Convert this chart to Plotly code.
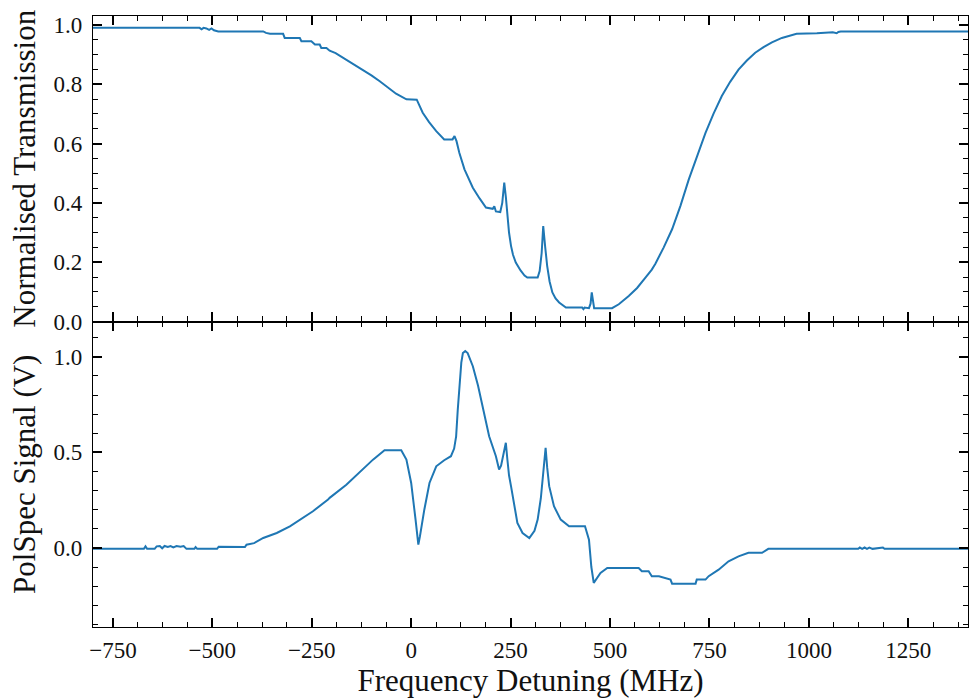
import plotly.graph_objects as go
from plotly.subplots import make_subplots

# Normalised transmission vs frequency detuning (MHz)
trans_freq = [-800, -532, -527, -522, -515, -508, -502, -496, -485, -372, -365, -355, -322,
              -318, -280, -276, -251, -242, -230, -226, -213, -205, -190, -163, -140, -121,
              -100, -79, -58, -38, -12, 14, 29, 45, 63, 83, 104, 109, 114, 121, 134, 155,
              172, 188, 205, 209, 213, 224, 229, 234, 238, 242, 246, 251, 256, 263, 275,
              285, 292, 318, 323, 328, 332, 337, 342, 348, 355, 363, 372, 389, 430, 433,
              436, 447, 451, 454, 457, 460, 505, 512, 522, 547, 568, 589, 605, 614, 635,
              656, 677, 698, 719, 740, 760, 781, 802, 823, 844, 865, 886, 907, 932, 950,
              969, 1020, 1060, 1070, 1074, 1080, 1400]
trans_vals = [0.990, 0.990, 0.985, 0.990, 0.988, 0.983, 0.988, 0.982, 0.978, 0.978, 0.973,
              0.970, 0.970, 0.956, 0.956, 0.945, 0.945, 0.934, 0.934, 0.922, 0.922, 0.913,
              0.905, 0.883, 0.865, 0.849, 0.830, 0.810, 0.790, 0.768, 0.749, 0.748, 0.704,
              0.672, 0.642, 0.614, 0.614, 0.625, 0.608, 0.569, 0.513, 0.451, 0.415, 0.384,
              0.380, 0.388, 0.371, 0.369, 0.400, 0.468, 0.420, 0.356, 0.300, 0.255, 0.225,
              0.199, 0.172, 0.155, 0.148, 0.148, 0.170, 0.230, 0.322, 0.250, 0.187, 0.135,
              0.098, 0.078, 0.064, 0.047, 0.047, 0.042, 0.047, 0.045, 0.060, 0.098, 0.060,
              0.045, 0.045, 0.050, 0.058, 0.086, 0.113, 0.148, 0.175, 0.195, 0.250, 0.311,
              0.390, 0.479, 0.560, 0.636, 0.700, 0.760, 0.808, 0.849, 0.880, 0.906, 0.925,
              0.941, 0.956, 0.963, 0.970, 0.972, 0.975, 0.972, 0.976, 0.978, 0.978]

# Polarisation spectroscopy signal (V)
pol_freq = [-800, -672, -668, -664, -645, -640, -632, -626, -620, -612, -605, -598, -590,
            -580, -572, -565, -545, -542, -538, -488, -484, -470, -418, -414, -395, -372,
            -338, -305, -280, -247, -209, -205, -163, -121, -96, -67, -25, -12, 0, 11, 18,
            22, 33, 46, 63, 83, 100, 108, 113, 117, 121, 126, 130, 136, 142, 155, 168, 180,
            196, 213, 221, 226, 232, 238, 242, 246, 251, 259, 267, 280, 297, 310, 318, 326,
            333, 338, 342, 347, 359, 376, 397, 437, 447, 453, 459, 466, 476, 493, 572, 580,
            597, 605, 623, 652, 656, 715, 718, 740, 748, 773, 798, 823, 848, 882, 898, 1124,
            1128, 1134, 1140, 1146, 1152, 1160, 1186, 1190, 1400]
pol_vals = [-0.005, -0.005, 0.008, -0.005, -0.005, 0.008, 0.010, -0.002, 0.010, 0.005,
            0.010, 0.003, 0.010, 0.006, 0.010, -0.005, -0.005, 0.004, -0.005, -0.005, 0.006,
            0.005, 0.005, 0.017, 0.025, 0.052, 0.078, 0.113, 0.148, 0.192, 0.253, 0.262,
            0.331, 0.410, 0.462, 0.511, 0.511, 0.462, 0.340, 0.148, 0.017, 0.060, 0.200,
            0.340, 0.427, 0.459, 0.480, 0.520, 0.584, 0.720, 0.846, 0.970, 1.020, 1.030,
            1.020, 0.951, 0.850, 0.741, 0.584, 0.480, 0.410, 0.430, 0.500, 0.550, 0.460,
            0.380, 0.323, 0.220, 0.131, 0.078, 0.052, 0.090, 0.148, 0.260, 0.420, 0.524,
            0.420, 0.323, 0.218, 0.148, 0.113, 0.113, 0.043, -0.100, -0.183, -0.160, -0.131,
            -0.105, -0.105, -0.122, -0.122, -0.148, -0.148, -0.166, -0.187, -0.187, -0.166,
            -0.166, -0.148, -0.114, -0.070, -0.044, -0.026, -0.026, -0.005, -0.005, 0.002,
            -0.005, 0.002, -0.005, 0.002, -0.005, 0.002, -0.005, -0.005]

x_ticks = [-750, -500, -250, 0, 250, 500, 750, 1000, 1250]
x_ticklabels = ["\u2212750", "\u2212500", "\u2212250", "0", "250", "500", "750", "1000", "1250"]

LINE_COLOR = "#1f77b4"
FONT = "Liberation Serif"
TEXT_COLOR = "#111"

fig = make_subplots(rows=2, cols=1, shared_xaxes=True, vertical_spacing=0)

fig.add_trace(go.Scatter(x=trans_freq, y=trans_vals, mode="lines",
                         line=dict(color=LINE_COLOR, width=2), showlegend=False),
              row=1, col=1)
fig.add_trace(go.Scatter(x=pol_freq, y=pol_vals, mode="lines",
                         line=dict(color=LINE_COLOR, width=2), showlegend=False),
              row=2, col=1)

axis_common = dict(
    showline=True, linecolor="black", linewidth=1.3, mirror="allticks",
    ticks="inside", ticklen=9, tickwidth=1.5, tickcolor="black",
    showgrid=False, zeroline=False,
    tickfont=dict(family=FONT, size=23, color=TEXT_COLOR),
)
minor_common = dict(ticks="inside", ticklen=5, tickwidth=1.2, tickcolor="black",
                    showgrid=False)

x_common = dict(axis_common, range=[-800, 1400], tickvals=x_ticks, ticktext=x_ticklabels,
                minor=dict(minor_common, dtick=62.5, tick0=0))

fig.update_xaxes(x_common, row=1, col=1)
fig.update_xaxes(x_common, row=2, col=1)
fig.update_xaxes(showticklabels=False, row=1, col=1)
fig.update_xaxes(ticklabelstandoff=2,
                 title=dict(text="Frequency Detuning (MHz)", standoff=4,
                            font=dict(family=FONT, size=31, color=TEXT_COLOR)),
                 row=2, col=1)

fig.update_yaxes(axis_common, range=[0, 1.03], dtick=0.2, tick0=0, tickformat=".1f",
                 minor=dict(minor_common, dtick=0.05),
                 ticklabelstandoff=5,
                 title=dict(text="Normalised Transmission", standoff=8,
                            font=dict(family=FONT, size=31, color=TEXT_COLOR)),
                 row=1, col=1)
fig.update_yaxes(axis_common, range=[-0.414, 1.185], dtick=0.5, tick0=0, tickformat=".1f",
                 minor=dict(minor_common, dtick=0.1),
                 ticklabelstandoff=5,
                 title=dict(text="PolSpec Signal (V)", standoff=8,
                            font=dict(family=FONT, size=31, color=TEXT_COLOR)),
                 row=2, col=1)

fig.update_layout(
    width=969, height=698,
    margin=dict(l=93, r=1, t=16, b=71),
    paper_bgcolor="white", plot_bgcolor="white",
    font=dict(family=FONT, color=TEXT_COLOR),
)
fig.layout.yaxis.domain = [0.5, 1.0]
fig.layout.yaxis2.domain = [0.0, 0.5]

fig.write_html("out.html")
